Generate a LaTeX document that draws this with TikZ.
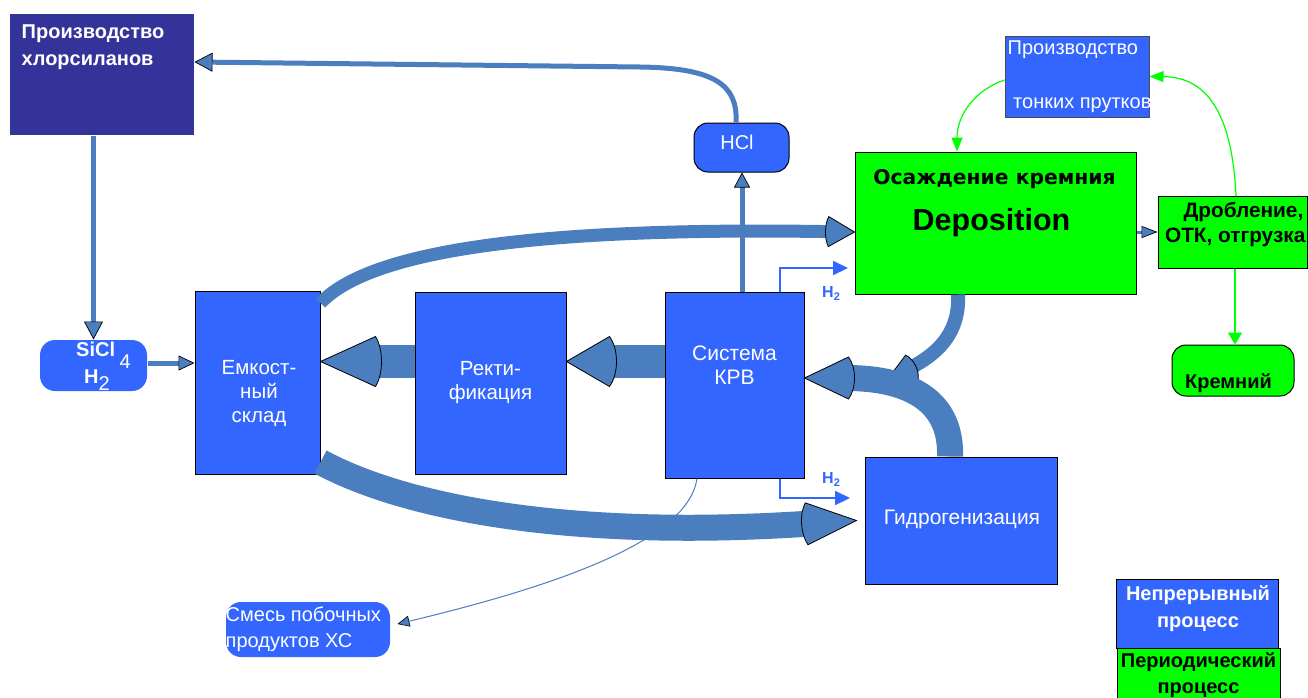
\documentclass[tikz,border=0pt]{standalone}
\usepackage{fontspec}
\setmainfont{Liberation Sans}
\newfontfamily\dejavu{DejaVu Sans}
\usetikzlibrary{arrows.meta}
\definecolor{nodeblue}{HTML}{3366FF}
\definecolor{darkblue}{HTML}{333399}
\definecolor{procgreen}{HTML}{00FF00}
\definecolor{linkblue}{HTML}{4A7EBF}
\newcommand\fsz[2]{\fontsize{#1}{#2}\selectfont}
\makeatletter
\pgfdeclarearrow{
  name = BigHead,
  defaults = {length = +40pt, width = +40pt, inset = +5pt, line width = +0.8pt},
  setup code = {
    \pgfarrowssettipend{\pgfarrowlength}
    \pgfarrowssetlineend{+2pt}
    \pgf@x-\pgfarrowinset
    \pgfarrowssetbackend{\pgf@x}
    \pgfarrowssetvisualbackend{+0pt}
    \pgfarrowssavethe\pgfarrowlength
    \pgfarrowssavethe\pgfarrowwidth
    \pgfarrowssavethe\pgfarrowinset
    \pgfarrowssavethe\pgfarrowlinewidth
  },
  drawing code = {
    \pgfsetdash{}{+0pt}
    \pgfsetlinewidth{\pgfarrowlinewidth}
    \pgfpathmoveto{\pgfqpoint{\pgfarrowlength}{0pt}}
    \pgfpathlineto{\pgfqpoint{0pt}{.5\pgfarrowwidth}}
    \pgfpathcurveto{\pgfqpoint{-1.33\pgfarrowinset}{.25\pgfarrowwidth}}{\pgfqpoint{-1.33\pgfarrowinset}{-.25\pgfarrowwidth}}{\pgfqpoint{0pt}{-.5\pgfarrowwidth}}
    \pgfpathclose
    \pgfusepathqfillstroke
  },
  parameters = {\the\pgfarrowlength,\the\pgfarrowwidth,\the\pgfarrowinset,\the\pgfarrowlinewidth}
}
\makeatother
\begin{document}
\begin{tikzpicture}[x=1pt,y=-1pt,
  box/.style={draw=black, line width=1pt, fill=nodeblue, inner sep=0pt, text=white},
  gbox/.style={box, fill=procgreen, text=black},
  txt/.style={inner sep=0pt, font=\fsz{20}{24}},
  link/.style={draw=linkblue, line width=5pt},
  sarrow/.style 2 args={-{Triangle[length=#1pt,width=#2pt,line width=0.7pt,color=black,fill=linkblue]}},
  band/.style={draw=linkblue, line width=#1pt},
  bigtip/.style n args={3}{-{BigHead[length=#1pt,width=#2pt,inset=#3pt,color=black,fill=linkblue]}},
  h2line/.style={draw=nodeblue, line width=2pt, -{Triangle[length=15pt,width=14pt]}},
  h2lab/.style={anchor=base west, inner sep=0pt, text=nodeblue, font=\bfseries\fsz{16}{19}},
  gline/.style={draw=procgreen, line width=1.2pt, -{Triangle[length=14pt,width=11pt]}}
]
\useasboundingbox (0,0) rectangle (1308,697);

% ---------- nodes ----------
\node[box, fill=darkblue, draw=none, minimum width=184pt, minimum height=121pt,
  label={[txt, text=white, anchor=north west, align=left, font=\bfseries\fsz{20}{27}, xshift=12pt, yshift=-11pt]north west:Производство\\хлорсиланов}] (chl) at (102,74.5) {};

\node[box, rounded corners=14pt, minimum width=95pt, minimum height=49pt,
  label={[txt, text=white, xshift=-4.5pt, yshift=5.5pt]center:HCl}] (hcl) at (741.5,147.5) {};

\node[box, draw=black!70, minimum width=144pt, minimum height=81pt,
  label={[txt, text=white, anchor=base west, xshift=3pt, yshift=-19pt]north west:Производство},
  label={[txt, text=white, anchor=base west, xshift=8.5pt, yshift=9pt]south west:тонких прутков}] (prut) at (1077,76.5) {};

\node[gbox, minimum width=281pt, minimum height=142pt,
  label={[txt, font=\dejavu\bfseries\fsz{20.3}{24}, xshift=-1pt, yshift=44pt]center:Осаждение кремния},
  label={[txt, font=\bfseries\fsz{30.5}{36}, xshift=-4pt, yshift=0pt]center:Deposition}] (dep) at (995.5,223) {};

\node[gbox, minimum width=149pt, minimum height=72pt,
  label={[txt, font=\bfseries\fsz{20.8}{24}, anchor=base east, xshift=-4pt, yshift=15.5pt]east:{Дробление,}},
  label={[txt, font=\bfseries\fsz{20.8}{24}, anchor=base east, xshift=-2pt, yshift=-9.5pt]east:{ОТК, отгрузка}}] (drob) at (1232.5,232.5) {};

\node[gbox, rounded corners=14pt, minimum width=122pt, minimum height=51pt,
  label={[txt, font=\bfseries\fsz{20}{24}, xshift=-4.5pt, yshift=-12.5pt]center:Кремний}] (krem) at (1233,370.5) {};

\node[box, draw=none, rounded corners=15pt, minimum width=107pt, minimum height=51pt,
  label={[txt, text=white, font=\bfseries\fsz{20}{24}, anchor=base west, xshift=36.5pt, yshift=-17pt]north west:SiCl\hspace{4.5pt}\raisebox{-12pt}{\mdseries 4}},
  label={[txt, text=white, font=\bfseries\fsz{20}{24}, anchor=base west, xshift=44.5pt, yshift=-44pt]north west:H\raisebox{-7pt}{\mdseries 2}}] (sicl) at (93.5,365.5) {};

\node[box, minimum width=125pt, minimum height=183pt,
  label={[txt, text=white, align=center, font=\fsz{20.5}{24}, xshift=1.5pt, yshift=-11pt]center:Емкост-\\ный\\склад}] (emk) at (257.5,382.5) {};

\node[box, minimum width=151pt, minimum height=182pt,
  label={[txt, text=white, align=center, font=\fsz{20.5}{24.5}, yshift=0.5pt]center:Ректи-\\фикация}] (rekt) at (490.5,383) {};

\node[box, minimum width=139pt, minimum height=186pt,
  label={[txt, text=white, align=center, font=\fsz{21}{24}, yshift=19.5pt]center:Система\\КРВ}] (krv) at (734.5,385) {};

\node[box, minimum width=192pt, minimum height=127pt,
  label={[txt, text=white, font=\fsz{21}{24}, xshift=1pt, yshift=1.5pt]center:Гидрогенизация}] (hyd) at (961,520.5) {};

\node[box, draw=none, rounded corners=15pt, minimum width=164pt, minimum height=55pt,
  label={[txt, text=white, anchor=base west, yshift=-20pt]north west:Смесь побочных},
  label={[txt, text=white, anchor=base west, yshift=-46pt]north west:продуктов ХС}] (smes) at (308,629.5) {};

\node[box, minimum width=162pt, minimum height=69pt,
  label={[txt, text=white, align=center, font=\bfseries\fsz{20}{27}, xshift=1pt, yshift=5pt]center:Непрерывный\\процесс}] (leg1) at (1197,613.5) {};
\node[gbox, minimum width=163pt, minimum height=52pt,
  label={[txt, align=center, font=\bfseries\fsz{20}{26}, yshift=-1pt]center:Периодический\\процесс}] (leg2) at (1198.5,674) {};

\node[h2lab] (h2t) at (822,297) {H\raisebox{-3.5pt}{\fsz{11}{13}2}};
\node[h2lab] (h2b) at (822,483) {H\raisebox{-3.5pt}{\fsz{11}{13}2}};

\coordinate (h2a) at (848,268);
\coordinate (h2c) at (850,498);
\coordinate (depend) at (887,380);

% ---------- connectors ----------
\draw[link, sarrow={18}{19}] (chl.south -| sicl.north) -- (sicl.north);
\draw[link, sarrow={18}{19}] (hcl.north -| 736,0) .. controls (738,85) and (715,68) .. (640,67) -- ([yshift=12.5pt]chl.east);
\draw[link, sarrow={15}{16}] (krv.north -| 742,0) -- (hcl.south -| 742,0);
\draw[link, sarrow={16}{15}] (sicl.east |- 0,363) -- (emk.west |- 0,363);
\draw[link, line width=3pt, sarrow={16}{12}] (dep.east |- 0,232) -- (drob.west |- 0,232);

\draw[band=33, bigtip={55}{50}{6}] (rekt.west |- 0,361.5) -- (emk.east |- 0,361.5);
\draw[band=33, bigtip={43}{50}{7}] (krv.west |- 0,361.5) -- (rekt.east |- 0,361.5);
\draw[band=13, bigtip={26}{30}{3}] (emk.east |- 0,303) .. controls (380,240) and (600,228) .. (dep.west |- 0,232);
\draw[band=26, bigtip={50}{42}{5}] (emk.east |- 0,462) .. controls (400,505) and (560,540) .. ([xshift=-8pt]hyd.west);
\draw[band=14, bigtip={28}{27}{4}] (dep.south -| 958,0) .. controls (960,335) and (935,355) .. (depend);
\draw[band=26, bigtip={44}{42}{6}] (hyd.north -| 950,0) .. controls (952,395) and (900,378) .. (krv.east |- 0,378);

\draw[draw=linkblue, line width=1pt, -{Triangle[length=12pt,width=11pt,line width=0.6pt,color=black,fill=linkblue]}]
  (krv.south -| 697,0) .. controls (688,540) and (560,585) .. ([xshift=7pt,yshift=5.5pt]smes.east);

\draw[h2line] (krv.north -| 780,0) |- (h2a);
\draw[h2line] (krv.south -| 780,0) |- (h2c);

\draw[gline] (drob.north -| 1236,0) .. controls (1232,110) and (1205,77) .. (prut.east);
\draw[gline] (prut.west |- 0,80) .. controls (975,90) and (957,115) .. (dep.north -| 957,0);
\draw[gline, line width=2pt, -{Triangle[length=12pt,width=14pt]}] (drob.south -| 1235,0) -- (krem.north -| 1235,0);
\end{tikzpicture}
\end{document}
